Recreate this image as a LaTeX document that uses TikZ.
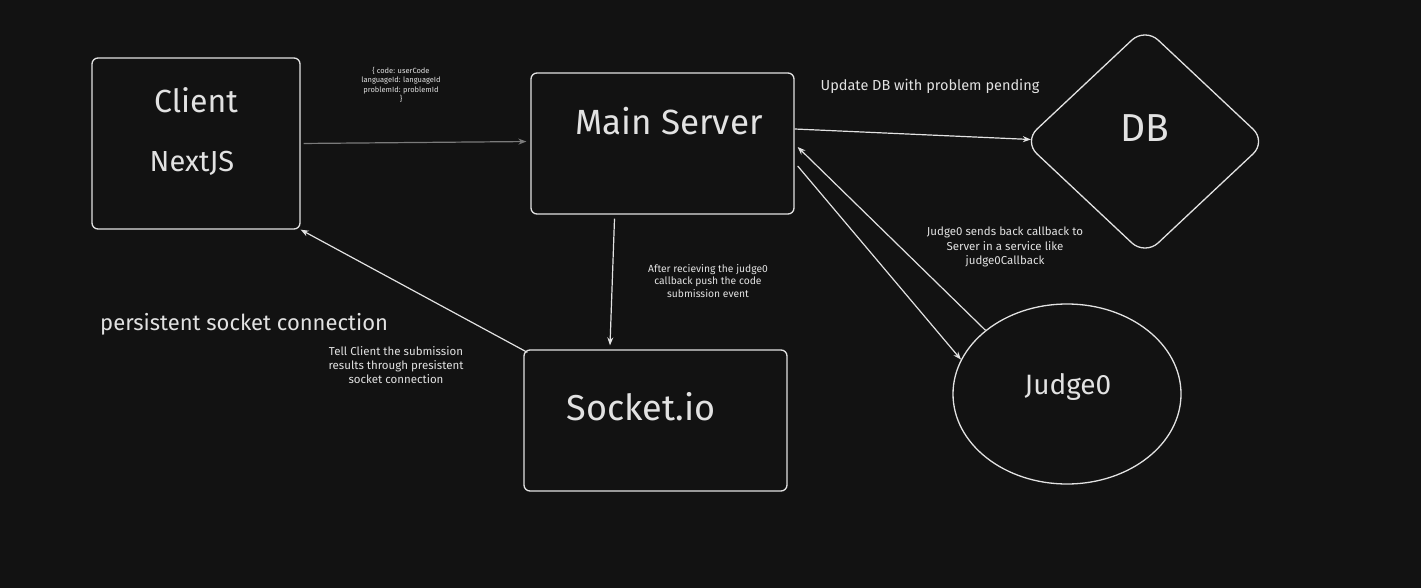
\documentclass[tikz,border=0pt]{standalone}
\usepackage{fontspec}
\setmainfont{Fira Sans}
\usetikzlibrary{shapes.geometric,arrows.meta}
\definecolor{bg}{HTML}{121212}
\definecolor{ink}{HTML}{E2E2E2}
\definecolor{dim}{HTML}{7A7A7A}
\tikzset{
  boxshape/.style={draw=ink, line width=1.3pt, rounded corners=6pt, inner sep=0pt},
  lbl/.style={text=ink, inner sep=0pt, align=center},
  conn/.style={draw=ink, line width=1.2pt, -{Stealth[length=8pt,width=6pt]}},
  fs/.style={font=\fontsize{#1}{#1}\selectfont\setlength\baselineskip{1.25\baselineskip}}
}
\begin{document}
\begin{tikzpicture}[x=1pt,y=-1pt]
\fill[bg] (0,0) rectangle (1421,588);
\useasboundingbox (0,0) rectangle (1421,588);

% boxes
\node[boxshape, minimum width=208pt, minimum height=171pt] (client) at (196,143.5) {};
\node[boxshape, minimum width=263pt, minimum height=141pt] (main) at (662.5,143.5) {};
\node[boxshape, minimum width=263pt, minimum height=141pt] (socket) at (655.5,420.5) {};
\node[draw=ink, line width=1.3pt, diamond, rounded corners=18pt, minimum width=243pt, minimum height=228pt, inner sep=0pt] (db) at (1145,141.5) {};
\node[draw=ink, line width=1.3pt, ellipse, minimum width=228pt, minimum height=180pt, inner sep=0pt] (judge) at (1067,394) {};

% box texts
\node[lbl, fs=32] (tclient) at (196,100) {Client};
\node[lbl, fs=29] (tnext) at (192,163) {NextJS};
\node[lbl, fs=35] (tmain) at (669,121) {Main Server};
\node[lbl, fs=36] (tsocket) at (641,407) {Socket.io};
\node[lbl, fs=39] (tdb) at (1145,128) {DB};
\node[lbl, fs=28] (tjudge) at (1068,387) {Judge0};

% annotations
\node[lbl, fs=7.5] (tpayload) at (401,85) {\{ code: userCode\\languageId: languageId\\problemId: problemId\\\}};
\node[lbl, fs=14.5] (tupdate) at (930,86) {Update DB with problem pending};
\node[lbl, fs=11.5] (tcallback) at (1005,247) {Judge0 sends back callback to\\Server in a service like\\judge0Callback};
\node[lbl, fs=10.3] (tafter) at (708,281) {After recieving the judge0\\callback push the code\\submission event};
\node[lbl, fs=22, anchor=west] (tpersist) at (100,324) {persistent socket connection};
\node[lbl, fs=11.5] (ttell) at (396,365) {Tell Client the submission\\results through presistent\\socket connection};

% connectors
\draw[conn, draw=dim, shorten <=3pt, shorten >=4pt] (client.east) -- ([yshift=2pt]main.west);
\draw[conn] ([yshift=14.5pt]main.east) -- ([xshift=8pt,yshift=2pt]db.west);
\draw[conn] ([xshift=-48pt,yshift=-4pt]main.south) -- ([xshift=-45.5pt,yshift=4pt]socket.north);
\draw[conn] ([xshift=4pt,yshift=-3pt]socket.north west) -- (client.south east);
\draw[conn] ([xshift=3pt,yshift=-22.5pt]main.east) -- (judge.162);
\draw[conn] (judge.142) -- ([xshift=3pt,yshift=-3.5pt]main.east);
\end{tikzpicture}
\end{document}
